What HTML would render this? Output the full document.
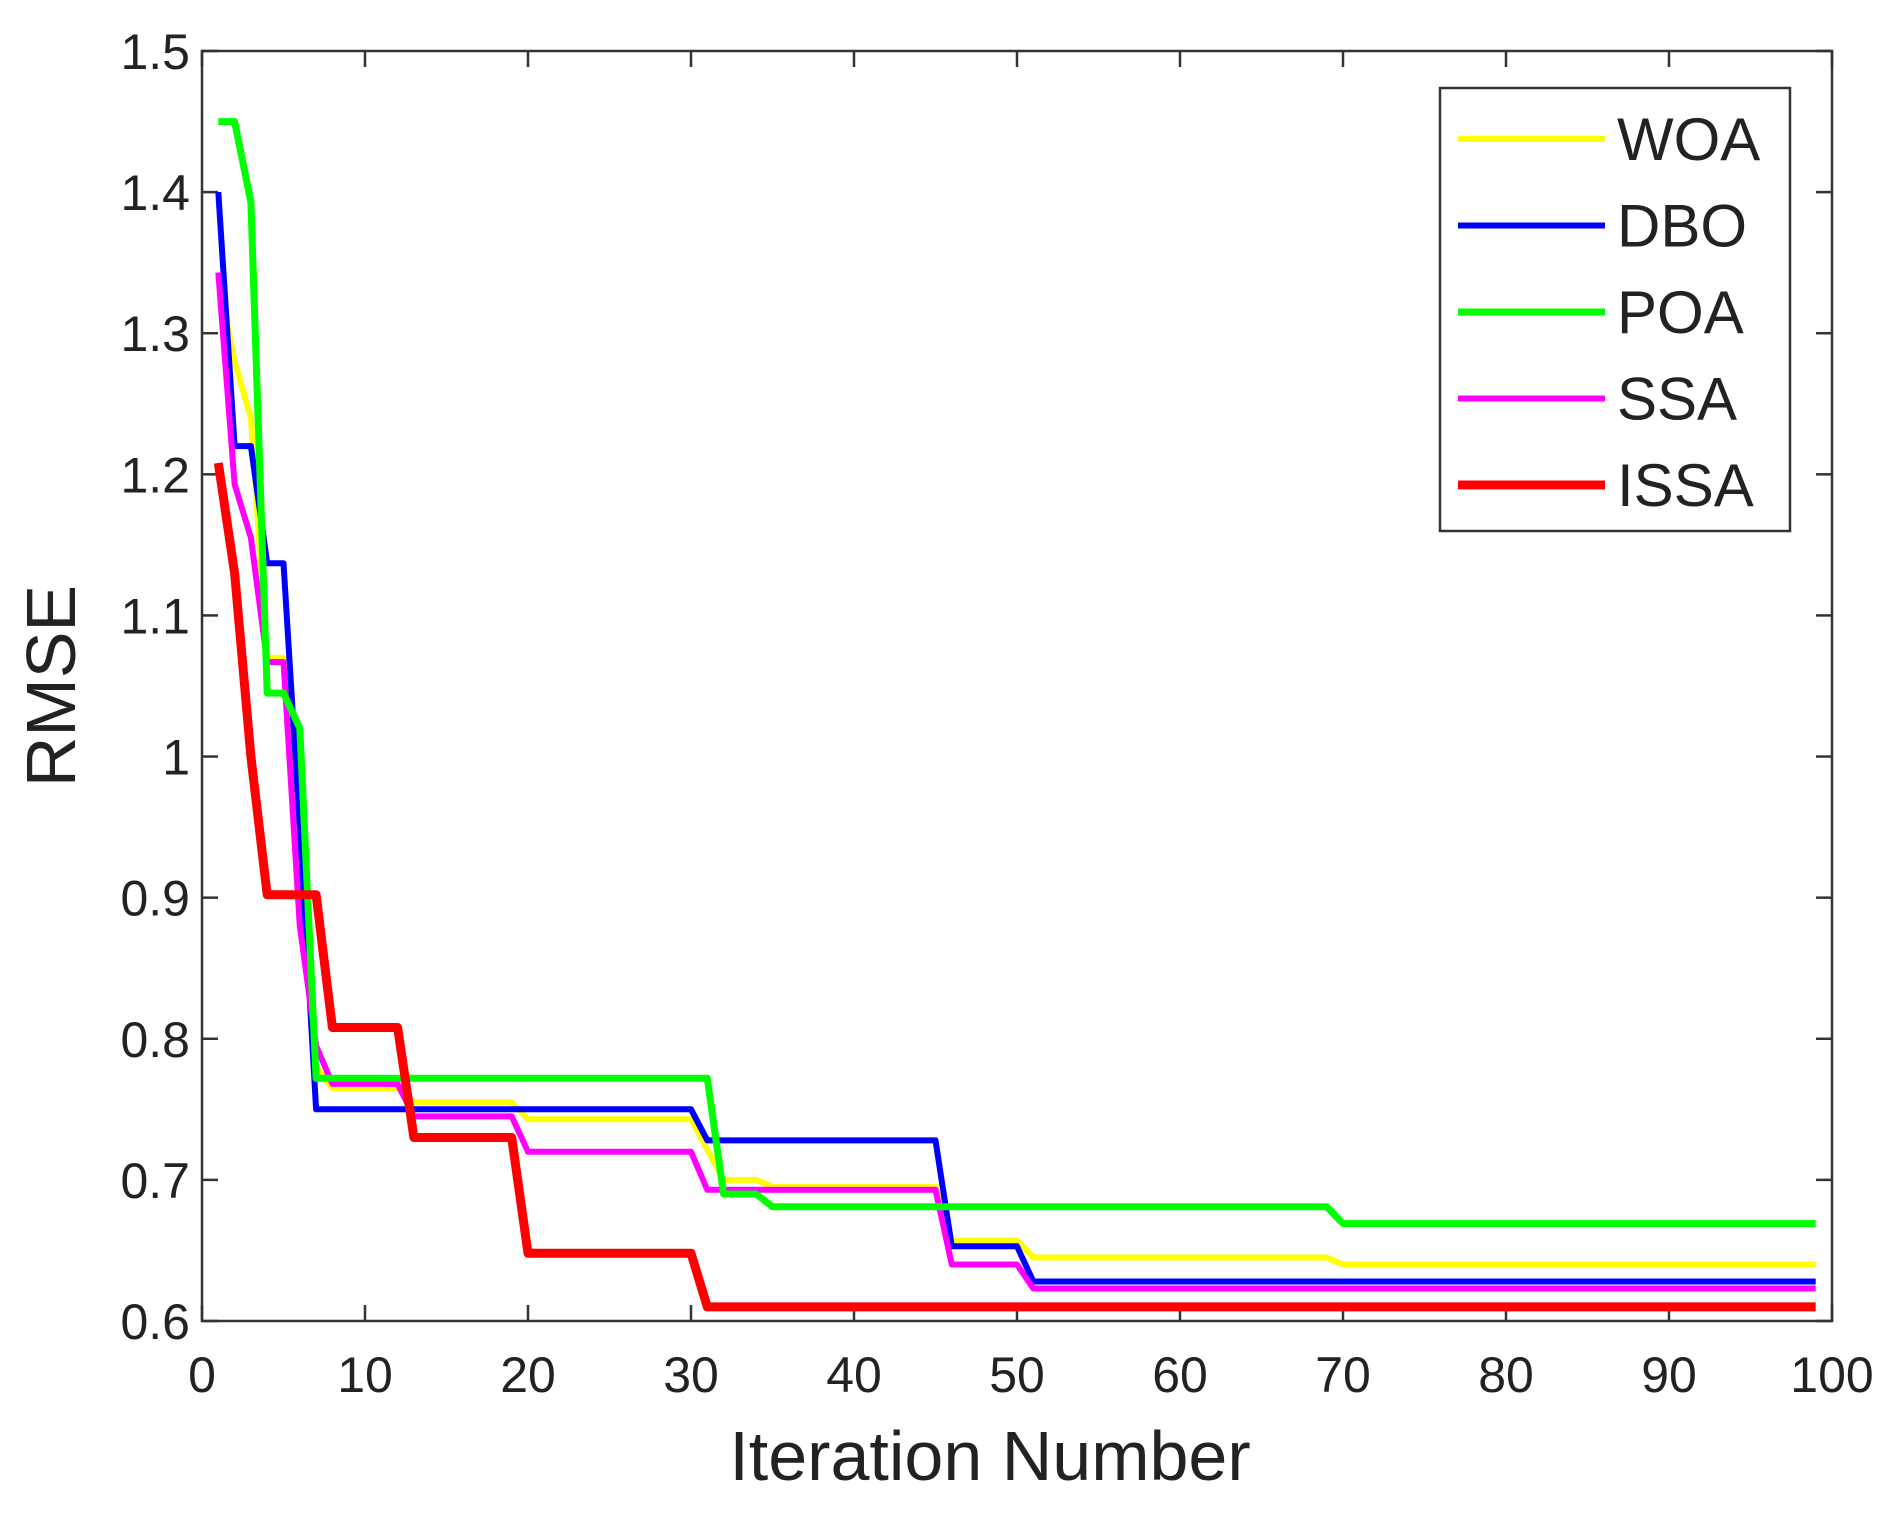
<!DOCTYPE html>
<html><head><meta charset="utf-8"><style>body{margin:0;background:#fff}svg{display:block}</style></head>
<body>
<svg id="s" width="1894" height="1515" xmlns="http://www.w3.org/2000/svg" font-family="Liberation Sans, Arial, sans-serif">
<rect width="1894" height="1515" fill="#fff"/>
<g id="ticks" stroke="#333" stroke-width="2.5"></g>
<g id="lbl" font-size="50" fill="#222"></g>
<g id="series" fill="none" stroke-linejoin="round"></g>
<rect x="202" y="51" width="1630" height="1270" fill="none" stroke="#333" stroke-width="2.5"/>
<rect x="1440" y="88" width="350" height="443" fill="#fff" stroke="#333" stroke-width="2.5"/>
<g id="leg" font-size="60" fill="#222"></g>
<text x="990" y="1480" font-size="70" text-anchor="middle" fill="#222">Iteration Number</text>
<text transform="translate(75,686) rotate(-90)" font-size="70" text-anchor="middle" fill="#222">RMSE</text>
</svg>
<script>
var X=function(i){return 202+i*16.3},Y=function(v){return 51+(1.5-v)*1411.1};
var ns="http://www.w3.org/2000/svg";
function el(p,t,a,txt){var e=document.createElementNS(ns,t);for(var k in a)e.setAttribute(k,a[k]);if(txt!=null)e.textContent=txt;p.appendChild(e);return e;}
var T=document.getElementById('ticks'),L=document.getElementById('lbl');
for(var i=0;i<=100;i+=10){var x=X(i);el(T,'line',{x1:x,y1:1321,x2:x,y2:1305});el(T,'line',{x1:x,y1:51,x2:x,y2:67});
el(L,'text',{x:x,y:1392,'text-anchor':'middle'},String(i));}
for(var k=0;k<=9;k++){var v=0.6+k*0.1,y=Y(v);el(T,'line',{x1:202,y1:y,x2:218,y2:y});el(T,'line',{x1:1832,y1:y,x2:1816,y2:y});
var s=(k==4)?'1':v.toFixed(1);el(L,'text',{x:190,y:y+18,'text-anchor':'end'},s);}
var D=[
['#ffff00',6,'WOA',[[1,1.34],[2,1.28],[3,1.24],[4,1.07],[5,1.07],[6,0.95],[7,0.78],[8,0.765],[12,0.765],[13,0.755],[19,0.755],[20,0.743],[30,0.743],[32,0.70],[34,0.70],[35,0.695],[45,0.695],[46,0.657],[50,0.657],[51,0.645],[69,0.645],[70,0.64],[99,0.64]]],
['#0000ff',6,'DBO',[[1,1.40],[2,1.22],[3,1.22],[4,1.137],[5,1.137],[6,0.95],[7,0.75],[30,0.75],[31,0.728],[45,0.728],[46,0.653],[50,0.653],[51,0.628],[99,0.628]]],
['#00ff00',7,'POA',[[1,1.45],[2,1.45],[3,1.393],[4,1.045],[5,1.045],[6,1.02],[7,0.772],[31,0.772],[32,0.69],[34,0.69],[35,0.681],[69,0.681],[70,0.669],[99,0.669]]],
['#ff00ff',6,'SSA',[[1,1.343],[2,1.193],[3,1.155],[4,1.067],[5,1.067],[6,0.88],[7,0.795],[8,0.768],[12,0.768],[13,0.745],[19,0.745],[20,0.72],[30,0.72],[31,0.693],[45,0.693],[46,0.64],[50,0.64],[51,0.623],[99,0.623]]],
['#ff0000',9,'ISSA',[[1,1.208],[2,1.13],[3,1.0],[4,0.902],[7,0.902],[8,0.808],[12,0.808],[13,0.73],[19,0.73],[20,0.648],[30,0.648],[31,0.61],[99,0.61]]]];
var S=document.getElementById('series'),G=document.getElementById('leg');
var order=[0,1,3,2,4];
order.forEach(function(n){var d=D[n];el(S,'polyline',{stroke:d[0],'stroke-width':d[1],points:d[3].map(function(p){return X(p[0]).toFixed(1)+','+Y(p[1]).toFixed(1)}).join(' ')});});
D.forEach(function(d,j){var y=139+j*86.5;el(G,'line',{x1:1458,y1:y,x2:1605,y2:y,stroke:d[0],'stroke-width':d[1]});
el(G,'text',{x:1617,y:y+21},d[2]);});
</script>
</body></html>
